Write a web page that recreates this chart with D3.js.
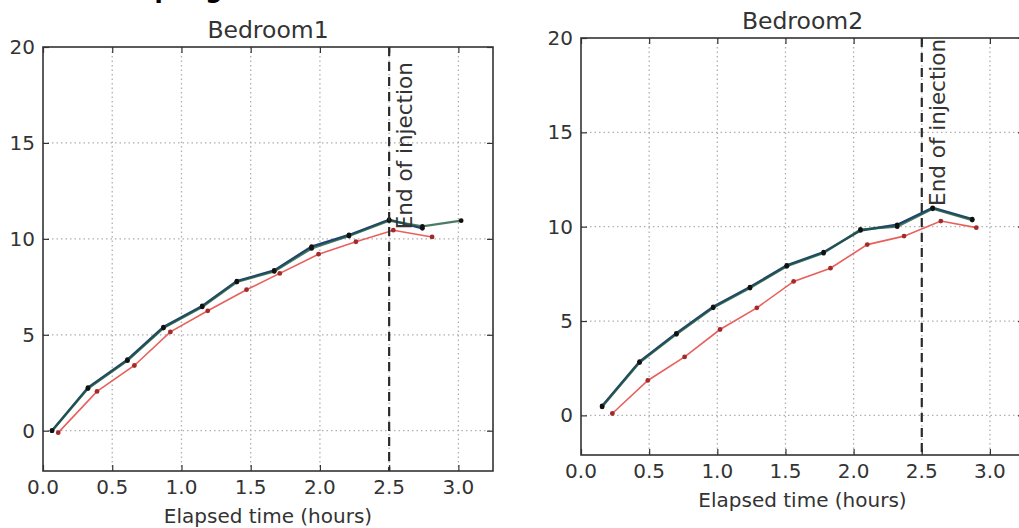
<!DOCTYPE html>
<html>
<head>
<meta charset="utf-8">
<script src="https://cdn.jsdelivr.net/npm/d3@7"></script>
<style>
body{margin:0;background:#fff;}
text{font-family:"DejaVu Sans",sans-serif;fill:#333;}
</style>
</head>
<body>
<script>
let width = 1019;
let height = 528;

// Bedroom1
let bed1BlueTime = [0.065, 0.325, 0.61, 0.87, 1.15, 1.40, 1.67, 1.94, 2.21, 2.50, 2.74];
let bed1Blue = [0.0, 2.25, 3.7, 5.4, 6.5, 7.8, 8.35, 9.6, 10.2, 11.0, 10.55];
let bed1GreenTime = [0.065, 0.325, 0.61, 0.87, 1.15, 1.40, 1.67, 1.94, 2.21, 2.50, 2.74, 3.02];
let bed1Green = [0.0, 2.2, 3.65, 5.35, 6.45, 7.75, 8.3, 9.5, 10.15, 10.95, 10.65, 10.95];
let bed1RedTime = [0.11, 0.39, 0.66, 0.92, 1.19, 1.47, 1.71, 1.99, 2.26, 2.53, 2.81];
let bed1Red = [-0.1, 2.05, 3.4, 5.15, 6.25, 7.35, 8.2, 9.2, 9.85, 10.45, 10.1];

// Bedroom2
let bed2BlueTime = [0.155, 0.43, 0.70, 0.97, 1.24, 1.51, 1.78, 2.05, 2.32, 2.58, 2.87];
let bed2Blue = [0.5, 2.85, 4.35, 5.75, 6.8, 7.95, 8.65, 9.8, 10.1, 11.0, 10.4];
let bed2GreenTime = [0.155, 0.43, 0.70, 0.97, 1.24, 1.51, 1.78, 2.05, 2.32, 2.58, 2.87];
let bed2Green = [0.45, 2.8, 4.3, 5.7, 6.75, 7.9, 8.6, 9.85, 10.0, 10.95, 10.35];
let bed2RedTime = [0.23, 0.49, 0.76, 1.02, 1.29, 1.56, 1.83, 2.10, 2.37, 2.64, 2.90];
let bed2Red = [0.1, 1.85, 3.1, 4.55, 5.7, 7.1, 7.8, 9.05, 9.5, 10.3, 9.95];

let titles = ["Bedroom1", "Bedroom2"];
let xTicks = [0.0, 0.5, 1.0, 1.5, 2.0, 2.5, 3.0];
let yTicks = [0, 5, 10, 15, 20];
let injectionEnd = 2.5;
let labelBottom = [10.5, 11.1];

let svg = d3.select("body").append("svg");
svg.attr("width", width).attr("height", height);

// suptitle, mostly above the picture's top edge as in the source
svg.append("text")
    .attr("x", 96)
    .attr("y", -2)
    .attr("font-size", 24)
    .attr("font-weight", "bold")
    .style("fill", "#000")
    .text("Sampling")
;

function drawPanel(box, title, series, labelY){
    let x = d3.scaleLinear().domain([0, 3.25]).range([box.left, box.right]);
    let y = d3.scaleLinear().domain([-2.1, 20]).range([box.bottom, box.top]);
    let g = svg.append("g");

    // grid
    g.selectAll(".gx")
        .data(xTicks.slice(1))
        .enter()
        .append("line")
            .attr("x1", function(d){ return x(d); })
            .attr("x2", function(d){ return x(d); })
            .attr("y1", box.top)
            .attr("y2", box.bottom)
            .attr("stroke", "#b0b0b0")
            .attr("stroke-width", 1.3)
            .attr("stroke-dasharray", "1.5,3")
    ;
    g.selectAll(".gy")
        .data(yTicks.slice(0, -1))
        .enter()
        .append("line")
            .attr("x1", box.left)
            .attr("x2", box.right)
            .attr("y1", function(d){ return y(d); })
            .attr("y2", function(d){ return y(d); })
            .attr("stroke", "#b0b0b0")
            .attr("stroke-width", 1.3)
            .attr("stroke-dasharray", "1.5,3")
    ;

    // inward ticks on all four sides
    g.append("g").attr("transform", "translate(0," + box.top + ")").call(d3.axisBottom(x).tickValues(xTicks).tickSize(6).tickFormat(""));
    g.append("g").attr("transform", "translate(0," + box.bottom + ")").call(d3.axisTop(x).tickValues(xTicks).tickSize(6).tickFormat(""));
    g.append("g").attr("transform", "translate(" + box.left + ",0)").call(d3.axisRight(y).tickValues(yTicks).tickSize(6).tickFormat(""));
    g.append("g").attr("transform", "translate(" + box.right + ",0)").call(d3.axisLeft(y).tickValues(yTicks).tickSize(6).tickFormat(""));
    g.selectAll(".domain").remove();
    g.selectAll(".tick line").attr("stroke", "#333").attr("stroke-width", 1.2);

    // tick labels
    g.selectAll(".xl")
        .data(xTicks)
        .enter()
        .append("text")
            .attr("x", function(d){ return x(d); })
            .attr("y", box.bottom + 23)
            .attr("text-anchor", "middle")
            .attr("font-size", 20)
            .text(function(d){ return d.toFixed(1); })
    ;
    g.selectAll(".yl")
        .data(yTicks)
        .enter()
        .append("text")
            .attr("x", box.left - 8)
            .attr("y", function(d){ return y(d) + 7; })
            .attr("text-anchor", "end")
            .attr("font-size", 20)
            .text(function(d){ return d; })
    ;

    // series
    let line = d3.line()
        .x(function(d){ return x(d[0]); })
        .y(function(d){ return y(d[1]); })
    ;
    series.forEach(function(s){
        let pts = d3.zip(s.t, s.v);
        g.append("path")
            .attr("d", line(pts))
            .attr("fill", "none")
            .attr("stroke", s.color)
            .attr("stroke-width", s.w)
            .attr("opacity", s.op)
        ;
        g.selectAll(null)
            .data(pts)
            .enter()
            .append("circle")
                .attr("cx", function(d){ return x(d[0]); })
                .attr("cy", function(d){ return y(d[1]); })
                .attr("r", 2.4)
                .attr("fill", s.marker)
        ;
    });

    // end of injection
    g.append("line")
        .attr("x1", x(injectionEnd))
        .attr("x2", x(injectionEnd))
        .attr("y1", box.top)
        .attr("y2", box.bottom)
        .attr("stroke", "#2a2a2a")
        .attr("stroke-width", 2.2)
        .attr("stroke-dasharray", "9,6")
    ;
    g.append("text")
        .attr("transform", "translate(" + (x(injectionEnd) + 23) + "," + y(labelY) + ") rotate(-90)")
        .attr("font-size", 21.5)
        .text("End of injection")
    ;

    // frame
    g.append("rect")
        .attr("x", box.left)
        .attr("y", box.top)
        .attr("width", box.right - box.left)
        .attr("height", box.bottom - box.top)
        .attr("fill", "none")
        .attr("stroke", "#333")
        .attr("stroke-width", 1.6)
    ;

    // title and x label
    g.append("text")
        .attr("x", (box.left + box.right) / 2)
        .attr("y", box.top - 9)
        .attr("text-anchor", "middle")
        .attr("font-size", 23.5)
        .text(title)
    ;
    g.append("text")
        .attr("x", (box.left + box.right) / 2)
        .attr("y", box.bottom + 52)
        .attr("text-anchor", "middle")
        .attr("font-size", 20)
        .text("Elapsed time (hours)")
    ;
}

drawPanel({left: 43, right: 493, top: 47, bottom: 471}, titles[0], [
    {t: bed1RedTime, v: bed1Red, color: "#e8605c", w: 1.6, op: 1, marker: "#a32a2a"},
    {t: bed1BlueTime, v: bed1Blue, color: "#22407a", w: 2.4, op: 1, marker: "#111"},
    {t: bed1GreenTime, v: bed1Green, color: "#1f5a3e", w: 2.2, op: 0.8, marker: "#111"}
], labelBottom[0]);

drawPanel({left: 581, right: 1024, top: 38, bottom: 455}, titles[1], [
    {t: bed2RedTime, v: bed2Red, color: "#e8605c", w: 1.6, op: 1, marker: "#a32a2a"},
    {t: bed2BlueTime, v: bed2Blue, color: "#22407a", w: 2.4, op: 1, marker: "#111"},
    {t: bed2GreenTime, v: bed2Green, color: "#1f5a3e", w: 2.2, op: 0.8, marker: "#111"}
], labelBottom[1]);
</script>
</body>
</html>
